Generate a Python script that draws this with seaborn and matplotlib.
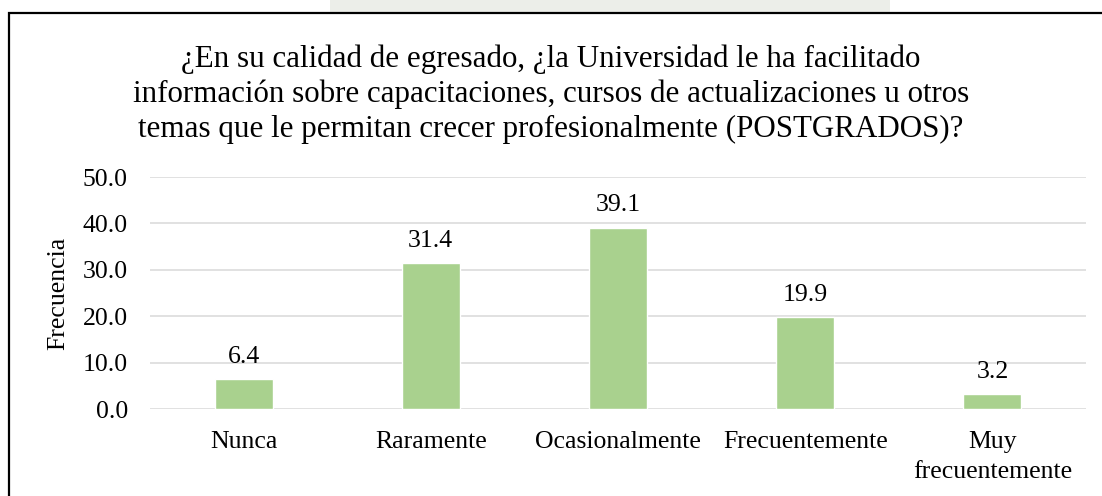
import pandas as pd
import seaborn as sns
import matplotlib.pyplot as plt
from matplotlib.patches import Rectangle

# Data
categorias = ["Nunca", "Raramente", "Ocasionalmente", "Frecuentemente", "Muy\nfrecuentemente"]
frecuencia = [6.4, 31.4, 39.1, 19.9, 3.2]
yticks = [0, 10, 20, 30, 40, 50]

df = pd.DataFrame({"Categoria": categorias, "Frecuencia": frecuencia})

sns.set_style("white")
plt.rcParams["font.family"] = ["Liberation Serif", "DejaVu Serif"]
plt.rcParams["text.color"] = "black"
plt.rcParams["xtick.color"] = "black"
plt.rcParams["ytick.color"] = "black"

fig = plt.figure(figsize=(11.02, 4.96), dpi=100)
fig.patch.set_facecolor("white")

# faint watermark band above the frame
fig.patches.append(Rectangle((330 / 1102, 1 - 13 / 496), 560 / 1102, 13 / 496,
                             transform=fig.transFigure, facecolor="#eceee9",
                             edgecolor="none", zorder=0))
# outer frame (runs off right and bottom edges)
fig.patches.append(Rectangle((9 / 1102, -0.05), 1.2, 1 - 13 / 496 + 0.05,
                             transform=fig.transFigure, facecolor="none",
                             edgecolor="black", linewidth=1.6, zorder=5))

ax = fig.add_axes([150 / 1102, 1 - 409 / 496, 936 / 1102, 232 / 496])
sns.barplot(x="Categoria", y="Frecuencia", data=df, color="#a9d18e",
            width=0.31, saturation=1, ax=ax, zorder=3)

ax.set_ylim(0, 50)
ax.set_yticks(yticks)
ax.set_yticklabels([f"{v:.1f}" for v in yticks], fontsize=18.5)
ax.tick_params(axis="y", length=0, pad=16)
ax.tick_params(axis="x", length=0, pad=16, labelsize=18.5)
for lbl in ax.get_xticklabels():
    lbl.set_linespacing(1.45)
ax.yaxis.grid(True, color="#d9d9d9", linewidth=1.1, zorder=0)
ax.set_axisbelow(True)
for s in ax.spines.values():
    s.set_visible(False)
ax.set_xlabel("")
ax.set_ylabel("")

ax.bar_label(ax.containers[0], labels=[f"{v:.1f}" for v in frecuencia],
             padding=8, fontsize=18.5)

fig.text(58 / 1102, 1 - 293 / 496, "Frecuencia", rotation=90, fontsize=18.5,
         ha="center", va="center")

fig.text(0.5, 1 - 94 / 496,
         "¿En su calidad de egresado, ¿la Universidad le ha facilitado\n"
         "información sobre capacitaciones, cursos de actualizaciones u otros\n"
         "temas que le permitan crecer profesionalmente (POSTGRADOS)?",
         ha="center", va="center", fontsize=22.3, linespacing=1.26)

plt.savefig("out.png", dpi=100)
plt.close()
